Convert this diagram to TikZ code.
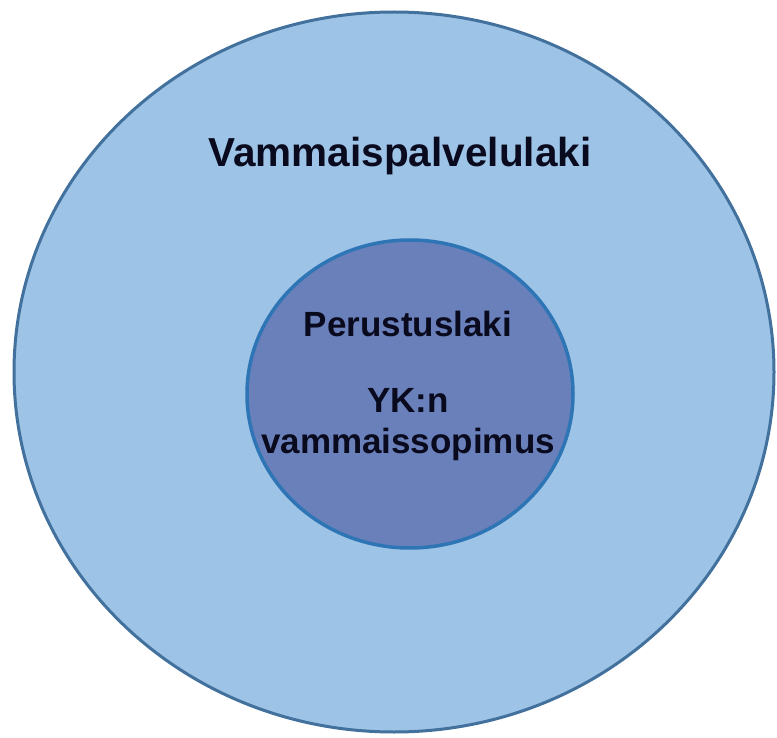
\documentclass[tikz,border=0pt]{standalone}
\usepackage{fontspec}
\setmainfont{Liberation Sans}
\definecolor{outerfill}{HTML}{9DC3E6}
\definecolor{outerline}{HTML}{41719C}
\definecolor{innerfill}{HTML}{6A80BA}
\definecolor{innerline}{HTML}{2E75B6}
\definecolor{txt}{HTML}{0A0A1E}
\begin{document}
\begin{tikzpicture}[x=1pt,y=-1pt,
  lbl/.style={text=txt,align=center,inner sep=0pt,anchor=base},
  big/.style={lbl,font=\bfseries\fontsize{40.5}{48}\selectfont},
  mid/.style={lbl,font=\bfseries\fontsize{35}{42}\selectfont}]
\useasboundingbox (0,0) rectangle (777,738);
\fill[white] (0,0) rectangle (777,738);
\draw[fill=outerfill,draw=outerline,line width=3pt] (394,372) ellipse [x radius=380, y radius=360];
\draw[fill=innerfill,draw=innerline,line width=3.5pt] (410,394) ellipse [x radius=163, y radius=154];
\node[big] (outer) at (400,167) {Vammaispalvelulaki};
\node[mid] (p) at (408,336) {Perustuslaki};
\node[mid] (yk) at (408,412) {YK:n};
\node[mid] (v) at (408,453) {vammaissopimus};
\end{tikzpicture}
\end{document}
